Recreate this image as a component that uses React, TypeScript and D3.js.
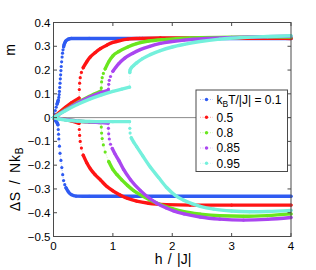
import React from "react";
import * as d3 from "d3";

type Pt = [number, number];

const temps = ["0.1", "0.5", "0.8", "0.85", "0.95"];
const colors = ["#2f5bf2", "#ff1414", "#6ae61e", "#aa46f0", "#74f0dc"];

const xTicks = [0, 1, 2, 3, 4];
const yTicks = [-0.5, -0.4, -0.3, -0.2, -0.1, 0, 0.1, 0.2, 0.3, 0.4];

// magnetisation m: branch below the jump / above the jump
const mLow01: Pt[] = [[0, 0], [0.015, 0.016], [0.03, 0.03], [0.045, 0.044], [0.06, 0.057], [0.07, 0.065], [0.08, 0.073]];
const mHigh01: Pt[] = [[0.09, 0.085], [0.095, 0.097], [0.1, 0.11], [0.105, 0.127], [0.11, 0.145], [0.115, 0.163], [0.12, 0.18], [0.125, 0.198], [0.13, 0.215], [0.137, 0.235], [0.145, 0.255], [0.152, 0.271], [0.16, 0.285], [0.17, 0.298], [0.18, 0.308], [0.195, 0.317], [0.21, 0.323], [0.25, 0.33], [0.3, 0.333], [0.6, 0.333], [1.5, 0.333], [4, 0.333]];
const mLow05: Pt[] = [[0, 0], [0.1, 0.022], [0.2, 0.043], [0.3, 0.062], [0.43, 0.082]];
const mHigh05: Pt[] = [[0.435, 0.118], [0.44, 0.145], [0.45, 0.168], [0.47, 0.19], [0.5, 0.21], [0.56, 0.235], [0.62, 0.255], [0.7, 0.273], [0.79, 0.29], [0.9, 0.305], [1.0, 0.316], [1.12, 0.324], [1.25, 0.33], [1.45, 0.333], [1.8, 0.335], [2.5, 0.335], [3.3, 0.334], [4, 0.333]];
const mLow08: Pt[] = [[0, 0], [0.2, 0.033], [0.4, 0.063], [0.6, 0.089], [0.8, 0.112]];
const mHigh08: Pt[] = [[0.805, 0.125], [0.81, 0.15], [0.82, 0.168], [0.84, 0.186], [0.87, 0.205], [0.93, 0.235], [1.0, 0.26], [1.1, 0.278], [1.25, 0.297], [1.4, 0.311], [1.6, 0.322], [1.9, 0.329], [2.3, 0.335], [3, 0.338], [4, 0.339]];
const mLow085: Pt[] = [[0, 0], [0.2, 0.031], [0.4, 0.06], [0.6, 0.085], [0.8, 0.105], [0.92, 0.115]];
const mHigh085: Pt[] = [[0.925, 0.12], [0.93, 0.14], [0.94, 0.157], [0.96, 0.173], [1.0, 0.195], [1.1, 0.227], [1.2, 0.25], [1.33, 0.27], [1.46, 0.286], [1.62, 0.3], [1.8, 0.312], [2.0, 0.32], [2.2, 0.326], [2.6, 0.333], [3.2, 0.338], [4, 0.342]];
const mLow095: Pt[] = [[0, 0], [0.2, 0.029], [0.4, 0.055], [0.6, 0.077], [0.8, 0.095], [1.0, 0.11], [1.15, 0.12], [1.28, 0.128]];
const mHigh095: Pt[] = [[1.285, 0.19], [1.29, 0.2], [1.31, 0.209], [1.35, 0.219], [1.4, 0.23], [1.5, 0.248], [1.63, 0.265], [1.8, 0.282], [2.0, 0.297], [2.2, 0.308], [2.47, 0.32], [2.8, 0.33], [3.2, 0.337], [3.6, 0.341], [4, 0.344]];

// entropy change dS / NkB: branch below the jump / above the jump
const sLow01: Pt[] = [[0, 0], [0.02, -0.007], [0.04, -0.014], [0.06, -0.022], [0.075, -0.03]];
const sHigh01: Pt[] = [[0.08, -0.05], [0.085, -0.07], [0.09, -0.09], [0.1, -0.12], [0.11, -0.15], [0.125, -0.18], [0.14, -0.21], [0.155, -0.24], [0.17, -0.265], [0.19, -0.282], [0.21, -0.295], [0.25, -0.312], [0.3, -0.324], [0.38, -0.33], [0.6, -0.331], [1.5, -0.331], [4, -0.331]];
const sLow05: Pt[] = [[0, 0], [0.1, -0.003], [0.2, -0.008], [0.3, -0.014], [0.43, -0.024]];
const sHigh05: Pt[] = [[0.435, -0.05], [0.44, -0.075], [0.45, -0.1], [0.47, -0.128], [0.5, -0.158], [0.56, -0.19], [0.62, -0.215], [0.7, -0.24], [0.79, -0.262], [0.9, -0.29], [1.0, -0.308], [1.12, -0.325], [1.25, -0.34], [1.4, -0.351], [1.6, -0.36], [1.9, -0.366], [2.3, -0.368], [3, -0.368], [4, -0.368]];
const sLow08: Pt[] = [[0, 0], [0.2, -0.008], [0.4, -0.014], [0.6, -0.018], [0.8, -0.021]];
const sHigh08: Pt[] = [[0.805, -0.04], [0.81, -0.065], [0.82, -0.088], [0.84, -0.115], [0.87, -0.145], [0.93, -0.185], [1.0, -0.218], [1.07, -0.24], [1.15, -0.262], [1.25, -0.286], [1.35, -0.307], [1.5, -0.33], [1.63, -0.347], [1.8, -0.366], [2.0, -0.383], [2.2, -0.396], [2.47, -0.406], [2.8, -0.413], [3.2, -0.415], [3.6, -0.412], [4, -0.405]];
const sLow085: Pt[] = [[0, 0], [0.2, -0.008], [0.4, -0.014], [0.6, -0.018], [0.8, -0.021], [0.92, -0.023]];
const sHigh085: Pt[] = [[0.925, -0.045], [0.93, -0.068], [0.94, -0.09], [0.96, -0.112], [0.99, -0.13], [1.03, -0.15], [1.1, -0.18], [1.18, -0.218], [1.3, -0.262], [1.46, -0.306], [1.6, -0.336], [1.74, -0.36], [1.9, -0.38], [2.02, -0.392], [2.2, -0.405], [2.47, -0.418], [2.8, -0.427], [3.2, -0.431], [3.6, -0.428], [4, -0.42]];
const sLow095: Pt[] = [[0, 0], [0.1, -0.006], [0.2, -0.01], [0.4, -0.014], [0.6, -0.016], [0.8, -0.017], [1.0, -0.017], [1.28, -0.017]];
const sHigh095: Pt[] = [[1.285, -0.045], [1.29, -0.065], [1.31, -0.085], [1.35, -0.103], [1.4, -0.122], [1.5, -0.16], [1.63, -0.208], [1.77, -0.252], [1.91, -0.295], [2.05, -0.327], [2.19, -0.347], [2.33, -0.362], [2.47, -0.373], [2.7, -0.385], [3.0, -0.393], [3.3, -0.396], [3.6, -0.395], [4, -0.39]];

const mLow = [mLow01, mLow05, mLow08, mLow085, mLow095];
const mHigh = [mHigh01, mHigh05, mHigh08, mHigh085, mHigh095];
const sLow = [sLow01, sLow05, sLow08, sLow085, sLow095];
const sHigh = [sHigh01, sHigh05, sHigh08, sHigh085, sHigh095];

const legendRows = [99.5, 117.3, 132.7, 148, 163.3];

export default function App() {
  const width = 316;
  const height = 270;
  const x = d3.scaleLinear().domain([0, 4]).range([53.5, 291]);
  const y = d3.scaleLinear().domain([-0.5, 0.4]).range([236.5, 22.5]);
  const line = d3.line<Pt>().x(d => x(d[0])).y(d => y(d[1])).curve(d3.curveMonotoneX);
  const fmt = d3.format("");
  const font = "'Liberation Sans', Arial, sans-serif";
  const [x0, x1] = x.range();
  const [y0, y1] = y.range();

  // dense markers look solid where the curve is flat, and come apart where it is steep
  const drawBranch = (pts: Pt[], color: string, key: string) => {
    const runs: Pt[][] = [];
    const steep: [Pt, Pt][] = [];
    let cur: Pt[] = [pts[0]];
    for (let j = 1; j < pts.length; j++) {
      const dx = Math.abs(x(pts[j][0]) - x(pts[j - 1][0]));
      const dy = Math.abs(y(pts[j][1]) - y(pts[j - 1][1]));
      if (dy > 2.2 * dx && dy > 2.5) {
        if (cur.length > 1) runs.push(cur);
        steep.push([pts[j - 1], pts[j]]);
        cur = [pts[j]];
      } else {
        cur.push(pts[j]);
      }
    }
    if (cur.length > 1) runs.push(cur);
    return (
      <g key={key}>
        {steep.map(([a, b], j) => (
          <line key={"s" + j} x1={x(a[0])} y1={y(a[1])} x2={x(b[0])} y2={y(b[1])} stroke={color} strokeOpacity={0.35} strokeDasharray="1,1.5" />
        ))}
        {runs.map((r, j) => (
          <path key={"r" + j} d={line(r) || ""} fill="none" stroke={color} strokeWidth={3.4} strokeLinecap="round" strokeLinejoin="round" />
        ))}
        {pts.map((p, j) => (
          <circle key={j} cx={x(p[0])} cy={y(p[1])} r={1.6} fill={color} />
        ))}
      </g>
    );
  };

  return (
    <svg width={width} height={height} style={{ position: "absolute", left: 0, top: 0, background: "#fff" }} fontFamily={font}>
      {/* zero line */}
      <line x1={x0} x2={x1} y1={y(0)} y2={y(0)} stroke="#8c8c8c" strokeWidth={1} />

      {temps.map((t, i) => {
        const lo = mLow[i][mLow[i].length - 1];
        const hi = mHigh[i][0];
        const slo = sLow[i][sLow[i].length - 1];
        const shi = sHigh[i][0];
        return (
          <g key={t}>
            <line x1={x(lo[0])} y1={y(lo[1])} x2={x(hi[0])} y2={y(hi[1])} stroke={colors[i]} strokeOpacity={0.35} strokeDasharray="1,1.5" />
            <line x1={x(slo[0])} y1={y(slo[1])} x2={x(shi[0])} y2={y(shi[1])} stroke={colors[i]} strokeOpacity={0.35} strokeDasharray="1,1.5" />
            {drawBranch(mLow[i], colors[i], "ml")}
            {drawBranch(mHigh[i], colors[i], "mh")}
            {drawBranch(sLow[i], colors[i], "sl")}
            {drawBranch(sHigh[i], colors[i], "sh")}
          </g>
        );
      })}

      {/* axes box with inward ticks */}
      <rect x={x0} y={y1} width={x1 - x0} height={y0 - y1} fill="none" stroke="#4a4a4a" strokeWidth={1} />
      {xTicks.map(v => (
        <g key={"x" + v}>
          <line x1={x(v)} x2={x(v)} y1={y0} y2={y0 - 3.5} stroke="#4a4a4a" />
          <line x1={x(v)} x2={x(v)} y1={y1} y2={y1 + 3.5} stroke="#4a4a4a" />
          <text x={x(v)} y={y0 + 13} textAnchor="middle" fontSize={11.5} fill="#000">{fmt(v)}</text>
        </g>
      ))}
      {yTicks.map(v => (
        <g key={"y" + v}>
          <line x1={x0} x2={x0 + 3.5} y1={y(v)} y2={y(v)} stroke="#4a4a4a" />
          <line x1={x1} x2={x1 - 3.5} y1={y(v)} y2={y(v)} stroke="#4a4a4a" />
          <text x={x0 - 3} y={y(v) + 4} textAnchor="end" fontSize={11.5} fill="#000">{fmt(v)}</text>
        </g>
      ))}

      {/* axis labels */}
      <text x={173} y={263.5} textAnchor="middle" fontSize={14} wordSpacing={1.5}>h / |J|</text>
      <text transform="translate(15,50) rotate(-90)" textAnchor="middle" fontSize={14}>m</text>
      <text transform="translate(20,179) rotate(-90)" textAnchor="middle" fontSize={14} letterSpacing={0.8} wordSpacing={2}>
        ΔS / Nk<tspan fontSize={10} dy={3}>B</tspan>
      </text>

      {/* legend */}
      <rect x={196} y={90} width={91.5} height={81.5} fill="#fff" stroke="#4a4a4a" strokeWidth={1} />
      {temps.map((t, i) => (
        <g key={"lg" + t}>
          <line x1={200} x2={213} y1={legendRows[i]} y2={legendRows[i]} stroke={colors[i]} strokeOpacity={0.4} strokeDasharray="1,1.5" />
          <circle cx={206.5} cy={legendRows[i]} r={1.7} fill={colors[i]} />
          {i === 0 ? (
            <text x={216.5} y={legendRows[i] + 4.2} fontSize={12}>
              k<tspan fontSize={8.5} dy={3}>B</tspan><tspan dy={-3}>T/|J| = {t}</tspan>
            </text>
          ) : (
            <text x={216.5} y={legendRows[i] + 4.2} fontSize={12}>{t}</text>
          )}
        </g>
      ))}
    </svg>
  );
}
